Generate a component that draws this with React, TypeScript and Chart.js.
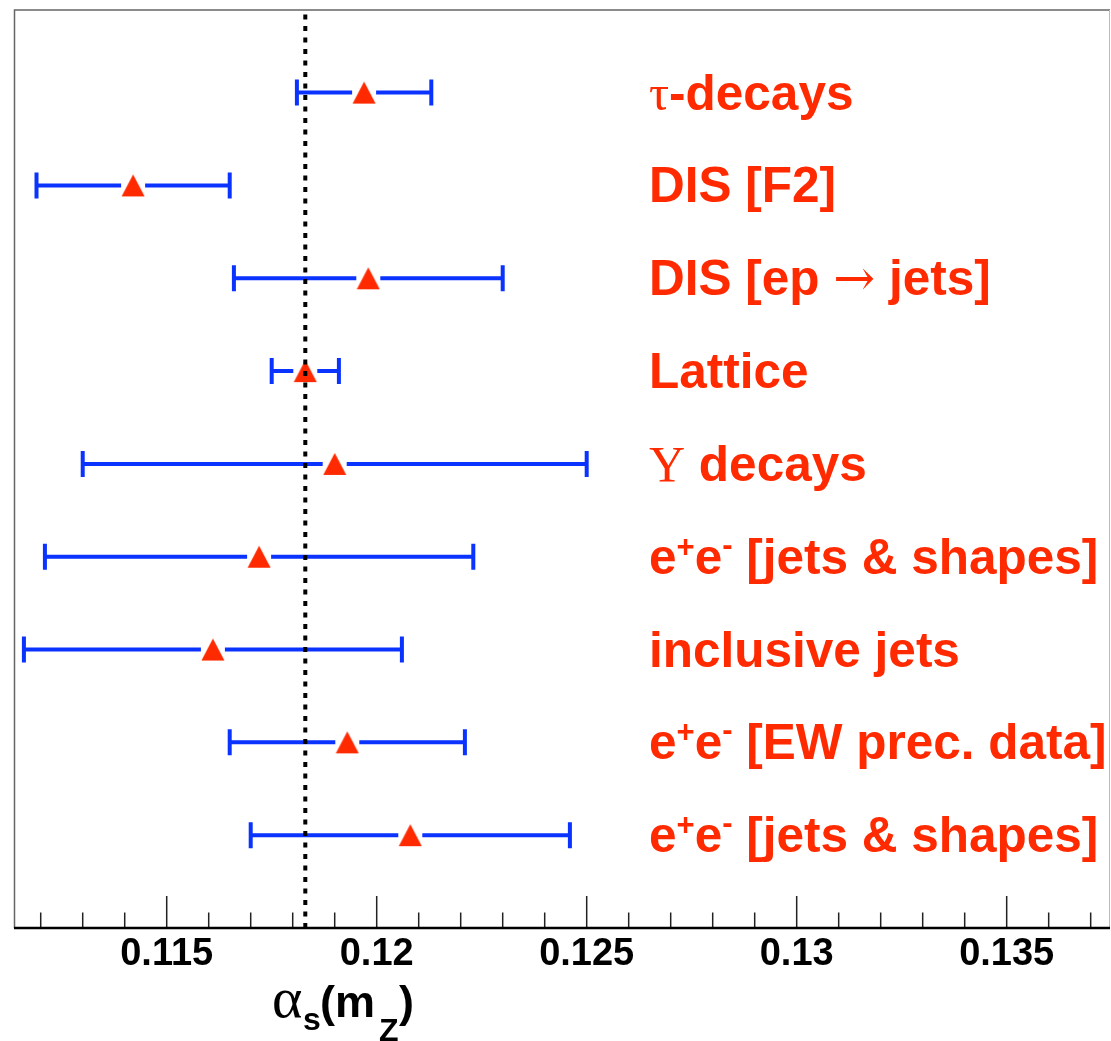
import React, { useEffect, useRef } from "react";
import { Chart, registerables } from "chart.js";

Chart.register(...registerables);

// ---- data ----
const categories = [
  "τ-decays",
  "DIS [F2]",
  "DIS [ep → jets]",
  "Lattice",
  "Υ decays",
  "e⁺e⁻ [jets & shapes]",
  "inclusive jets",
  "e⁺e⁻ [EW prec. data]",
  "e⁺e⁻ [jets & shapes]",
];
const alphaValues = [0.1197, 0.1142, 0.1198, 0.1183, 0.119, 0.1172, 0.1161, 0.1193, 0.1208];
const errLow = [0.0016, 0.0023, 0.0032, 0.0008, 0.006, 0.0051, 0.0045, 0.0028, 0.0038];
const errHigh = [0.0016, 0.0023, 0.0032, 0.0008, 0.006, 0.0051, 0.0045, 0.0028, 0.0038];
const worldAverage = 0.1183;
const xTickLabels = ["0.115", "0.12", "0.125", "0.13", "0.135"];
const xMin = 0.111364;
const xMax = 0.13746;
const yMax = 9.89;

const RED = "#ff2a00";
const BLUE = "#0a33ff";

function makeTriangle(): HTMLCanvasElement {
  const c = document.createElement("canvas");
  c.width = 24;
  c.height = 24;
  const ctx = c.getContext("2d")!;
  ctx.fillStyle = RED;
  ctx.beginPath();
  ctx.moveTo(12, 1);
  ctx.lineTo(23.5, 23);
  ctx.lineTo(0.5, 23);
  ctx.closePath();
  ctx.fill();
  return c;
}

function rowY(i: number) {
  return categories.length - i;
}

const errorBarPlugin = {
  id: "errorBars",
  beforeDatasetsDraw(chart: any) {
    const { ctx, scales } = chart;
    const xs = scales.x;
    const ys = scales.y;
    ctx.save();
    ctx.strokeStyle = BLUE;
    ctx.lineWidth = 4;
    ctx.lineCap = "butt";
    alphaValues.forEach((v, i) => {
      const y = ys.getPixelForValue(rowY(i));
      const x1 = xs.getPixelForValue(v - errLow[i]);
      const x2 = xs.getPixelForValue(v + errHigh[i]);
      const xc = xs.getPixelForValue(v);
      ctx.beginPath();
      if (xc - 12 > x1) {
        ctx.moveTo(x1, y);
        ctx.lineTo(xc - 12, y);
      }
      if (xc + 12 < x2) {
        ctx.moveTo(xc + 12, y);
        ctx.lineTo(x2, y);
      }
      ctx.moveTo(x1, y - 13);
      ctx.lineTo(x1, y + 13);
      ctx.moveTo(x2, y - 13);
      ctx.lineTo(x2, y + 13);
      ctx.stroke();
    });
    ctx.restore();
  },
};

const SANS = "'Liberation Sans', Arial, sans-serif";

function drawRichLabel(ctx: CanvasRenderingContext2D, text: string, x: number, y: number) {
  let cx = x;
  for (const ch of Array.from(text)) {
    let font = `bold 49.5px ${SANS}`;
    let glyph = ch;
    let dy = 0;
    if (ch === "τ" || ch === "Υ") {
      font = "50px 'Liberation Serif', 'DejaVu Serif', serif";
    } else if (ch === "→") {
      font = "50px 'DejaVu Serif', serif";
    } else if (ch === "⁺") {
      glyph = "+";
      font = `bold 31px ${SANS}`;
      dy = -17;
    } else if (ch === "⁻") {
      glyph = "-";
      font = `bold 31px ${SANS}`;
      dy = -19;
    }
    ctx.font = font;
    ctx.fillText(glyph, cx, y + dy);
    cx += ctx.measureText(glyph).width;
  }
}

const labelsPlugin = {
  id: "rowLabels",
  afterDraw(chart: any) {
    const { ctx, scales, chartArea } = chart;
    const ys = scales.y;
    const xs = scales.x;
    ctx.save();
    ctx.fillStyle = RED;
    ctx.textBaseline = "alphabetic";
    ctx.textAlign = "left";
    categories.forEach((c, i) => {
      const y = ys.getPixelForValue(rowY(i));
      drawRichLabel(ctx, c, 649, y + 17);
    });

    // frame
    ctx.strokeStyle = "#666";
    ctx.lineWidth = 1.5;
    ctx.beginPath();
    ctx.moveTo(chartArea.left + 0.5, chartArea.bottom);
    ctx.lineTo(chartArea.left + 0.5, chartArea.top);
    ctx.lineTo(chartArea.right, chartArea.top);
    ctx.stroke();
    ctx.strokeStyle = "#bbb";
    ctx.lineWidth = 1;
    ctx.beginPath();
    ctx.moveTo(chartArea.right - 0.5, chartArea.top);
    ctx.lineTo(chartArea.right - 0.5, chartArea.bottom);
    ctx.stroke();

    // inward ticks
    ctx.strokeStyle = "#222";
    ctx.lineWidth = 1.5;
    ctx.beginPath();
    xs.ticks.forEach((t: any, i: number) => {
      const px = xs.getPixelForTick(i);
      const major = xTickLabels.some((l) => Math.abs(parseFloat(l) - t.value) < 1e-7);
      const len = major ? 32 : 15.5;
      ctx.moveTo(px, chartArea.bottom);
      ctx.lineTo(px, chartArea.bottom - len);
    });
    ctx.stroke();

    // bottom axis line
    ctx.strokeStyle = "#000";
    ctx.lineWidth = 2.5;
    ctx.beginPath();
    ctx.moveTo(chartArea.left, chartArea.bottom);
    ctx.lineTo(chartArea.right, chartArea.bottom);
    ctx.stroke();

    // axis title alpha_s(m_Z)
    ctx.fillStyle = "#000";
    const base = 1017;
    ctx.font = "58px 'Liberation Serif', 'DejaVu Serif', serif";
    ctx.fillText("α", 272, base);
    ctx.font = `bold 32px ${SANS}`;
    ctx.fillText("s", 303, base + 13);
    ctx.font = `bold 45px ${SANS}`;
    ctx.fillText("(m", 320, base);
    ctx.font = `bold 32px ${SANS}`;
    ctx.fillText("Z", 379, base + 24);
    ctx.font = `bold 45px ${SANS}`;
    ctx.fillText(")", 399, base);
    ctx.restore();
  },
};

export default function App() {
  const ref = useRef<HTMLCanvasElement | null>(null);
  useEffect(() => {
    if (!ref.current) return;
    const tri = makeTriangle();
    const chart = new Chart(ref.current, {
      type: "scatter",
      data: {
        datasets: [
          {
            type: "line",
            label: "world average",
            data: [
              { x: worldAverage, y: 0 },
              { x: worldAverage, y: yMax },
            ],
            borderColor: "#000",
            borderWidth: 4,
            borderDash: [5, 6.5],
            pointRadius: 0,
            order: 0,
          } as any,
          {
            label: "alpha_s",
            data: alphaValues.map((v, i) => ({ x: v, y: rowY(i) })),
            pointStyle: tri as any,
            pointRadius: 12,
            order: 1,
          },
        ],
      },
      options: {
        responsive: false,
        animation: false,
        layout: { autoPadding: false, padding: { left: 14, right: 1, top: 10, bottom: 0 } },
        plugins: { legend: { display: false }, tooltip: { enabled: false } },
        scales: {
          x: {
            type: "linear",
            min: xMin,
            max: xMax,
            grid: { display: false },
            border: { display: false },
            afterFit: (s: any) => {
              s.height = 113;
            },
            ticks: {
              stepSize: 0.001,
              includeBounds: false,
              autoSkip: false,
              maxRotation: 0,
              padding: -4,
              color: "#000",
              font: { family: SANS, size: 38, weight: "bold" },
              callback: (v: any) => {
                const l = xTickLabels.find((t) => Math.abs(parseFloat(t) - Number(v)) < 1e-7);
                return l ?? "";
              },
            },
          },
          y: {
            type: "linear",
            display: false,
            min: 0,
            max: yMax,
          },
        },
      },
      plugins: [errorBarPlugin, labelsPlugin],
    });
    return () => chart.destroy();
  }, []);
  return (
    <div style={{ position: "absolute", left: 0, top: 0, width: 1111, height: 1041, background: "#fff" }}>
      <canvas ref={ref} width={1111} height={1041} style={{ display: "block" }} />
    </div>
  );
}
